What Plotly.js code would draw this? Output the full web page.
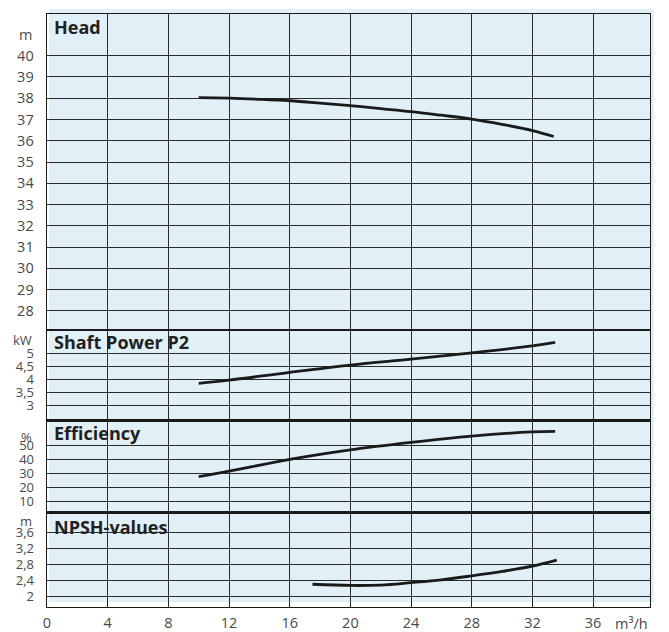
<!DOCTYPE html>
<html>
<head>
<meta charset="utf-8">
<script src="https://cdn.plot.ly/plotly-3.0.1.min.js"></script>
<style>html,body{margin:0;padding:0;background:#fff;}#chart{width:669px;height:632px;}</style>
</head>
<body>
<div id="chart"></div>
<script>
// ---- data ----
const xTickVals = [0, 4, 8, 12, 16, 20, 24, 28, 32, 36];
const xUnit = 'm³/h';

const headX = [10, 12, 14, 16, 18, 20, 22, 24, 26, 28, 30, 32, 33.4];
const headY = [38.03, 38.0, 37.95, 37.88, 37.77, 37.65, 37.51, 37.37, 37.2, 37.02, 36.77, 36.48, 36.2];
const headTicks = [28, 29, 30, 31, 32, 33, 34, 35, 36, 37, 38, 39, 40];

const powerX = [10, 12, 16, 20, 24, 28, 32, 33.5];
const powerY = [3.85, 3.97, 4.27, 4.55, 4.78, 5.02, 5.29, 5.42];
const powerTickVals = [3, 3.5, 4, 4.5, 5];
const powerTickText = ['3', '3,5', '4', '4,5', '5'];

const effX = [10, 12, 16, 20, 24, 28, 32, 33.5];
const effY = [27.4, 31.3, 39.8, 46.6, 51.9, 56.4, 59.4, 59.8];
const effTicks = [10, 20, 30, 40, 50];

const npshX = [17.5, 20, 22, 24, 26, 28, 30, 32, 33.6];
const npshY = [2.31, 2.28, 2.29, 2.35, 2.42, 2.52, 2.63, 2.76, 2.91];
const npshTickVals = [2, 2.4, 2.8, 3.2, 3.6];
const npshTickText = ['2', '2,4', '2,8', '3,2', '3,6'];

const panelTitles = ['Head', 'Shaft Power P2', 'Efficiency', 'NPSH-values'];
const unitLabels = ['m', 'kW', '%', 'm'];

// ---- layout ----
const lineCol = '#1a1a1a';
const gridCol = '#2a2a2a';
const tickFont = {family: 'Open Sans, sans-serif', size: 14.5, color: '#4a4a4a'};
const smallTickFont = {family: 'Open Sans, sans-serif', size: 13, color: '#4a4a4a'};
const titleFont = {family: 'Open Sans, sans-serif', size: 18, color: '#231f20', weight: 700};

const xRange = [0, 39.75];
const ranges = [[27.1, 41.96], [2.41, 5.9], [1.6, 67.4], [1.744, 4.09]];
const domains = [[0.4671, 1], [0.3142, 0.4671], [0.1589, 0.3142], [0, 0.1589]];
const titleY = [41.35, 5.43, 58.6, 3.73];
const unitY = [41, 5.52, 56, 3.88];

function trace(x, y, i) {
  const s = i === 0 ? '' : String(i + 1);
  return {x: x, y: y, xaxis: 'x' + s, yaxis: 'y' + s, type: 'scatter', mode: 'lines',
    line: {color: lineCol, width: 2.8, shape: 'spline', smoothing: 1},
    hoverinfo: 'skip', showlegend: false};
}

const data = [trace(headX, headY, 0), trace(powerX, powerY, 1), trace(effX, effY, 2), trace(npshX, npshY, 3)];

const layout = {
  width: 669, height: 632,
  margin: {l: 47, r: 19, t: 14, b: 25},
  paper_bgcolor: '#ffffff',
  plot_bgcolor: 'rgba(0,0,0,0)',
  showlegend: false,
  shapes: [{type: 'rect', xref: 'paper', yref: 'paper', x0: 0.0033, x1: 1.0066, y0: 0.0084, y1: 1.0084,
    fillcolor: '#e1eff7', line: {width: 0}, layer: 'below'}],
  annotations: []
};

const tickSets = [
  {vals: headTicks, text: headTicks.map(String)},
  {vals: powerTickVals, text: powerTickText},
  {vals: effTicks, text: effTicks.map(String)},
  {vals: npshTickVals, text: npshTickText}
];

for (let i = 0; i < 4; i++) {
  const s = i === 0 ? '' : String(i + 1);
  layout['xaxis' + s] = {
    domain: [0, 1], range: xRange, anchor: 'y' + s,
    tickmode: 'array', tickvals: xTickVals, ticktext: xTickVals.map(String),
    showticklabels: i === 3, ticks: '', tickfont: tickFont, ticklabelstandoff: 2,
    showgrid: true, gridcolor: gridCol, gridwidth: 1, zeroline: false,
    showline: true, mirror: true, linecolor: lineCol, linewidth: 1.4, fixedrange: true
  };
  layout['yaxis' + s] = {
    domain: domains[i], range: ranges[i], anchor: 'x' + s,
    tickmode: 'array', tickvals: tickSets[i].vals, ticktext: tickSets[i].text,
    ticks: '', tickfont: i === 0 ? tickFont : smallTickFont, ticklabelstandoff: 9,
    showgrid: true, gridcolor: gridCol, gridwidth: 1, zeroline: false,
    showline: true, mirror: true, linecolor: lineCol, linewidth: 1.4, fixedrange: true
  };
  layout.annotations.push({
    text: panelTitles[i], xref: 'paper', yref: 'y' + s, x: 0.0085, y: titleY[i],
    xanchor: 'left', yanchor: 'middle', showarrow: false, font: titleFont
  });
  layout.annotations.push({
    text: unitLabels[i], xref: 'paper', yref: 'y' + s, x: -0.021, y: unitY[i],
    xanchor: 'right', yanchor: 'middle', showarrow: false, font: i === 0 ? tickFont : smallTickFont
  });
}
layout.annotations.push({
  text: xUnit, xref: 'paper', yref: 'paper', x: 0.97, y: -0.027,
  xanchor: 'center', yanchor: 'middle', showarrow: false, font: tickFont
});

Plotly.newPlot('chart', data, layout, {displayModeBar: false, staticPlot: true});
</script>
</body>
</html>
